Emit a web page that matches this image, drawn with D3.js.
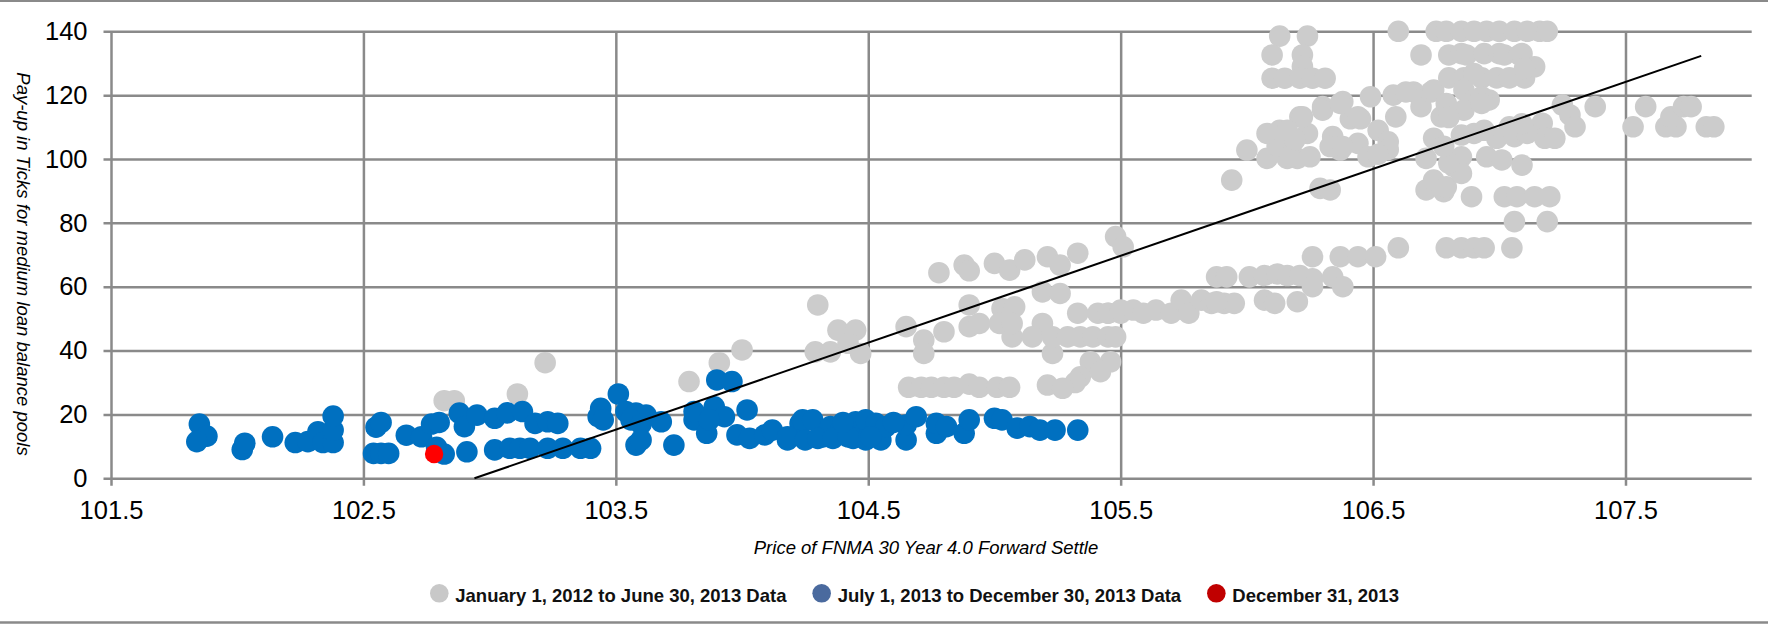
<!DOCTYPE html>
<html>
<head>
<meta charset="utf-8">
<script src="https://cdn.jsdelivr.net/npm/d3@7"></script>
<style>
  html, body { margin: 0; padding: 0; background: #ffffff; }
  svg { display: block; }
  text { font-family: "Liberation Sans", Arial, Helvetica, sans-serif; }
</style>
</head>
<body>
<svg id="chart" width="1768" height="627"></svg>
<script>
// ---- Data ----------------------------------------------------------------
// [price, pay-up in ticks]
const earlyPoints = [
  [102.82,24.3],[102.86,24.3],[103.11,26.4],[103.22,36.2],[103.79,30.3],[103.91,36.2],[104.00,40.2],
  [104.30,54.3],[104.29,39.6],[104.35,39.6],[104.38,46.4],[104.45,46.4],[104.42,42.3],[104.47,39.1],
  [104.65,47.5],[104.72,43.3],[104.72,39.1],[104.80,45.9],[104.78,64.4],[104.88,66.8],[104.90,65.0],
  [104.90,54.3],[104.90,47.5],[104.94,48.5],[105.00,67.3],[105.06,65.2],[105.12,68.4],[105.03,53.2],[105.08,53.7],
  [105.02,48.5],[105.07,44.3],[105.07,48.5],[105.19,48.5],[105.15,44.3],[105.21,69.4],[105.26,66.8],
  [105.19,58.4],[105.26,57.9],[105.33,70.5],[105.48,75.7],[105.51,72.5],
  [105.33,51.7],[105.23,39.1],[105.23,44.3],[105.29,44.3],[105.34,44.3],[105.39,44.3],[105.45,44.3],[105.48,44.3],
  [105.41,51.7],[105.45,51.7],[105.50,51.7],[105.38,36.5],[105.46,36.5],[105.42,33.4],[105.34,31.8],[105.32,30.0],
  [105.21,29.2],[105.27,28.2],
  [104.66,28.5],[104.71,28.5],[104.75,28.5],[104.80,28.5],[104.84,28.5],[104.90,29.5],[104.94,28.5],[105.01,28.5],[105.06,28.5],
  [105.45,51.7],[105.50,52.7],[105.55,52.7],[105.59,51.7],[105.64,52.7],[105.70,51.7],[105.74,55.8],[105.77,51.7],
  [105.82,55.8],[105.86,54.8],[105.91,54.8],[105.95,54.8],[105.88,55.3],
  [106.07,55.8],[106.11,54.8],[106.20,55.3],
  [105.88,63.1],[105.92,63.1],[106.01,63.1],[106.07,63.5],[106.12,64.0],[106.16,63.5],[106.21,63.5],[106.26,62.5],[106.34,63.1],
  [106.26,60.0],[106.38,60.0],
  [106.26,69.4],[106.37,69.4],[106.44,69.4],[106.51,69.4],
  [106.60,72.2],[106.79,72.2],[106.85,72.2],[106.90,72.2],[106.94,72.2],[107.05,72.2],
  [107.06,80.4],[107.19,80.4],
  [107.02,88.2],[107.07,88.2],[107.14,88.2],[107.20,88.2],
  [105.94,93.4],[106.29,90.8],[106.33,90.3],
  [106.71,90.3],[106.78,89.8],[106.89,88.2],[106.74,93.4],[106.79,91.3],
  [106.82,97.6],[106.85,100.7],[106.95,100.7],[107.01,99.7],[107.09,98.1],[106.85,95.5],[106.80,98.7],
  [106.00,102.8],[106.08,100.2],[106.16,100.2],[106.20,100.2],[106.12,104.0],[106.08,108.0],[106.13,109.0],
  [106.17,100.7],[106.25,100.7],[106.21,113.2],[106.24,108.0],[106.30,116.4],[106.38,118.0],[106.34,107.0],
  [106.37,102.8],[106.41,112.6],[106.45,112.6],[106.44,104.9],[106.48,100.7],[106.49,119.5],[106.52,109.0],
  [106.56,105.4],[106.56,103.0],[106.52,101.5],[106.58,120.0],[106.59,113.2],[106.66,121.0],[106.69,116.4],
  [106.73,121.0],[106.77,113.2],[106.74,106.5],[106.71,100.2],[106.78,104.0],
  [106.19,106.0],[106.33,103.9],[106.38,103.9],[106.30,115.3],[106.37,117.4],[106.44,113.2],[106.22,113.2],
  [106.16,109.0],[106.63,121.0],[106.74,121.6],
  [106.13,138.5],[106.24,138.5],[106.10,132.6],[106.22,132.6],[106.22,129.0],
  [106.10,125.3],[106.15,125.3],[106.21,125.3],[106.26,125.3],[106.31,125.3],
  [106.60,140],[106.69,132.6],[106.75,140],[106.79,140],[106.85,140],[106.90,140],[106.95,140],[107.00,140],
  [107.06,140],[107.11,140],[107.16,140],[107.19,140],
  [106.80,132.6],[106.85,133.0],[106.87,132.6],[106.94,133.0],[107.00,133.0],[107.02,132.6],[107.08,132.6],
  [107.09,133.0],[107.14,128.9],
  [106.80,125.4],[106.86,125.4],[106.93,125.4],[106.99,125.4],[107.04,125.4],[107.10,125.4],[106.90,126.8],[107.10,128.4],
  [106.86,121.6],[106.90,118.5],[106.96,118.5],[106.93,119.5],[106.79,117.4],[106.86,115.3],[106.80,113.0],[106.93,117.4],
  [107.25,116.9],[107.28,113.8],[107.30,110.1],[107.38,116.4],[107.04,110.1],[107.09,110.1],[107.17,111.2],
  [107.18,106.5],[106.99,106.5],[107.06,107.0],[106.90,108.0],[106.85,107.5],[106.94,109.0],[107.11,108.0],
  [107.22,106.5],[107.09,111.0],
  [107.53,110.1],[107.58,116.4],[107.66,110.1],[107.70,110.1],[107.68,113.2],[107.73,116.4],[107.76,116.4],
  [107.82,110.1],[107.85,110.1]
];

const latePoints = [
  [101.85,17.0],[101.88,13.2],[101.84,11.5],[102.02,9.0],[102.03,11.0],[102.14,13.0],
  [102.23,11.2],[102.28,11.5],[102.32,14.6],[102.34,11.2],[102.38,11.2],[102.38,15.1],[102.38,19.5],
  [102.55,16.0],[102.57,17.5],[102.54,7.8],[102.57,7.8],[102.60,7.8],[102.67,13.5],[102.73,13.0],
  [102.77,17.0],[102.80,17.5],[102.79,9.7],[102.82,7.6],[102.91,8.3],[102.88,20.4],[102.90,16.2],
  [102.95,19.8],[103.02,18.8],[103.02,8.9],
  [103.07,20.5],[103.13,20.9],[103.18,17.2],[103.23,17.7],[103.27,17.2],
  [103.08,9.4],[103.12,9.4],[103.16,9.4],[103.23,9.4],[103.29,9.4],[103.36,9.4],[103.40,9.4],
  [103.44,21.9],[103.43,19.3],[103.51,26.4],[103.45,18.3],[103.54,20.9],[103.58,20.4],[103.62,19.8],
  [103.56,18.3],[103.68,17.7],[103.60,17.0],
  [103.58,10.4],[103.60,12.0],[103.73,10.4],
  [103.81,18.3],[103.81,20.9],[103.86,14.1],[103.89,22.4],[103.93,19.3],[103.87,18.3],[103.90,30.8],
  [103.96,30.3],[104.02,21.4],
  [103.98,13.6],[104.03,12.5],[104.09,13.6],[104.12,15.1],[104.18,12.0],[104.23,17.2],
  [104.18,13.0],[104.24,18.3],[104.28,18.3],[104.25,12.0],[104.32,13.0],[104.35,16.2],[104.39,15.1],
  [104.45,17.7],[104.44,12.5],[104.49,18.3],[104.53,17.2],[104.49,12.0],[104.55,12.0],[104.57,16.2],
  [104.65,12.0],[104.65,16.7],[104.69,19.3],[104.77,14.1],[104.77,17.2],[104.81,16.2],[104.88,14.1],
  [104.90,18.3],[105.00,18.8],[105.03,18.3],[105.09,15.7],[105.14,16.2],[105.18,15.1],[105.24,15.1],[105.33,15.1],
  [104.30,12.5],[104.36,12.5],[104.42,13.0],[104.51,13.0],[104.40,17.5],[104.60,17.5]
];

const lastPoints = [[102.78, 7.6]];

// fitted trend line end points
const trendX = [102.94, 107.80];
const trendY = [0, 132.3];

const xTicks = [101.5, 102.5, 103.5, 104.5, 105.5, 106.5, 107.5];
const yTicks = [0, 20, 40, 60, 80, 100, 120, 140];

const seriesNames = [
  "January 1, 2012 to June 30, 2013 Data",
  "July 1, 2013 to December 30, 2013 Data",
  "December 31, 2013"
];
const xTitle = "Price of FNMA 30 Year 4.0 Forward Settle";
const yTitle = "Pay-up in Ticks for medium loan balance pools";

// ---- Layout ----------------------------------------------------------------
const W = 1768, H = 627;
const plot = { left: 111, right: 1751.7, top: 31.3, bottom: 478.3 };
const tickLen = 7.5;
const gridColor = "#8a8a8a";

const svg = d3.select("#chart");

const x = d3.scaleLinear().domain([101.5, 108]).range([plot.left, plot.right]);
const y = d3.scaleLinear().domain([0, 140]).range([plot.bottom, plot.top]);

// frame lines across the full width
svg.append("line").attr("x1", 0).attr("x2", W).attr("y1", 1).attr("y2", 1)
  .attr("stroke", gridColor).attr("stroke-width", 2);
svg.append("line").attr("x1", 0).attr("x2", W).attr("y1", 622.5).attr("y2", 622.5)
  .attr("stroke", gridColor).attr("stroke-width", 2.5);

// horizontal grid + y labels
const yAxis = d3.axisLeft(y)
  .tickValues(yTicks)
  .tickFormat(d3.format("d"))
  .tickSize(-(plot.right - plot.left + tickLen))
  .tickPadding(16);
const gy = svg.append("g")
  .attr("transform", `translate(${plot.left - tickLen},0)`)
  .call(yAxis);
gy.select(".domain").remove();
gy.selectAll(".tick line").attr("stroke", gridColor).attr("stroke-width", 2.5);
gy.selectAll(".tick text")
  .attr("fill", "#000").style("font-size", "25.5px");

// vertical grid + x labels
const xAxis = d3.axisBottom(x)
  .tickValues(xTicks)
  .tickFormat(d3.format(".1f"))
  .tickSize(-(plot.bottom - plot.top + tickLen))
  .tickPadding(15.5);
const gx = svg.append("g")
  .attr("transform", `translate(0,${plot.bottom + tickLen})`)
  .call(xAxis);
gx.select(".domain").remove();
gx.selectAll(".tick line").attr("stroke", gridColor).attr("stroke-width", 2.5);
gx.selectAll(".tick text")
  .attr("fill", "#000").style("font-size", "25.5px");

// axis titles
svg.append("text")
  .attr("x", 926).attr("y", 554)
  .attr("text-anchor", "middle")
  .style("font-size", "18.5px").style("font-style", "italic")
  .attr("fill", "#000")
  .text(xTitle);

svg.append("text")
  .attr("transform", "translate(17.3,264) rotate(90)")
  .attr("text-anchor", "middle")
  .style("font-size", "18.5px").style("font-style", "italic")
  .attr("fill", "#000")
  .text(yTitle);

// ---- Marks -----------------------------------------------------------------
const marks = svg.append("g");

marks.append("g").selectAll("circle")
  .data(earlyPoints).join("circle")
  .attr("cx", d => x(d[0])).attr("cy", d => y(d[1]))
  .attr("r", 10.8).attr("fill", "#cccccc");

marks.append("g").selectAll("circle")
  .data(latePoints).join("circle")
  .attr("cx", d => x(d[0])).attr("cy", d => y(d[1]))
  .attr("r", 10.8).attr("fill", "#0070c0");

marks.append("g").selectAll("circle")
  .data(lastPoints).join("circle")
  .attr("cx", d => x(d[0])).attr("cy", d => y(d[1]))
  .attr("r", 9.2).attr("fill", "#ff0000");

const trendLine = d3.line().x(d => x(d[0])).y(d => y(d[1]));
svg.append("path")
  .datum(trendX.map((v, i) => [v, trendY[i]]))
  .attr("d", trendLine)
  .attr("fill", "none").attr("stroke", "#000").attr("stroke-width", 2);

// ---- Legend ----------------------------------------------------------------
const legendColors = ["#c8c8c8", "#4a6a9e", "#c00000"];
const legend = svg.append("g");
let lx = 439.3;
const ly = 593.3;
seriesNames.forEach((name, i) => {
  legend.append("circle").attr("cx", lx).attr("cy", ly).attr("r", 9.3)
    .attr("fill", legendColors[i]);
  const t = legend.append("text")
    .attr("x", lx + 16).attr("y", 601.5)
    .style("font-size", "18.5px").style("font-weight", "bold")
    .attr("fill", "#111")
    .text(name);
  lx = lx + 16 + t.node().getComputedTextLength() + 35.2;
});
</script>
</body>
</html>
